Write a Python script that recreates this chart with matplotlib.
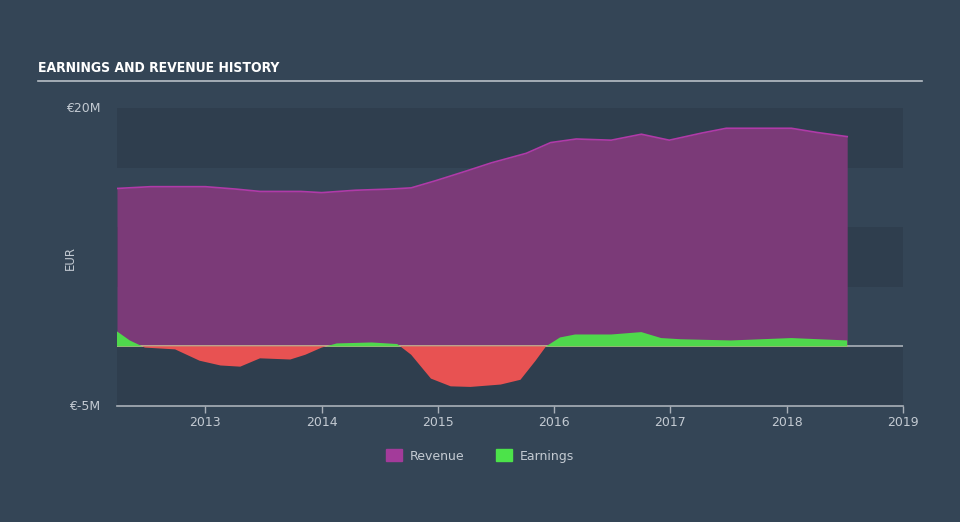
import matplotlib
matplotlib.use('Agg')
import matplotlib.pyplot as plt
import matplotlib.patches as mpatches
import numpy as np

# revenue history (EUR millions), dates as decimal years
rev_dates = [2012.24, 2012.53, 2013.0, 2013.26, 2013.47, 2013.82, 2014.0, 2014.29,
             2014.59, 2014.77, 2014.98, 2015.24, 2015.46, 2015.76, 2015.97, 2016.19,
             2016.49, 2016.75, 2016.99, 2017.27, 2017.48, 2018.04, 2018.26, 2018.52]
revenue = [13.25, 13.4, 13.4, 13.2, 13.0, 13.0, 12.9, 13.1,
           13.2, 13.3, 13.9, 14.7, 15.4, 16.2, 17.1, 17.4,
           17.3, 17.8, 17.3, 17.9, 18.3, 18.3, 17.95, 17.6]

earn_dates = [2012.24, 2012.35, 2012.48, 2012.74, 2012.95, 2013.13, 2013.30, 2013.47,
              2013.73, 2013.86, 2014.0, 2014.13, 2014.43, 2014.65, 2014.77, 2014.94,
              2015.11, 2015.28, 2015.54, 2015.71, 2015.84, 2015.93, 2016.05, 2016.18,
              2016.49, 2016.75, 2016.92, 2017.09, 2017.52, 2018.04, 2018.52]
earnings = [1.26, 0.5, -0.1, -0.25, -1.2, -1.6, -1.7, -1.0,
            -1.1, -0.7, -0.1, 0.25, 0.33, 0.2, -0.7, -2.7,
            -3.35, -3.4, -3.2, -2.8, -1.2, 0.0, 0.75, 1.0,
            1.0, 1.2, 0.7, 0.6, 0.5, 0.7, 0.5]

years = [2013, 2014, 2015, 2016, 2017, 2018, 2019]
ytick_vals = [-5, 20]
ytick_labels = ['€-5M', '€20M']

BG = '#344556'
BAND = '#2f3e4e'
REV_FILL = '#7b3a78'
REV_LINE = '#b03aa8'
GREEN = '#4fd84c'
RED = '#e85252'
TXT = '#c3cad2'

fig = plt.figure(figsize=(9.6, 5.22), dpi=100, facecolor=BG)
ax = fig.add_axes([117 / 960, 1 - 406 / 522, 786 / 960, 298 / 522])
ax.set_facecolor(BG)
ax.set_xlim(2012.24, 2019.0)
ax.set_ylim(-5, 20)

# alternating background bands
for lo, hi in [(-5, 0), (5, 10), (15, 20)]:
    ax.axhspan(lo, hi, color=BAND, lw=0, zorder=0)

ax.axhline(0, color='#a9b0b8', lw=1.2, zorder=1)

rd = np.array(rev_dates)
rv = np.array(revenue)
ax.fill_between(rd, 0, rv, color=REV_FILL, lw=0, zorder=2)
ax.plot(rd, rv, color=REV_LINE, lw=1.2, zorder=3)
# zero line shows warm through the revenue area
ax.plot([rd[0], rd[-1]], [0, 0], color='#c9b98f', lw=1.2, zorder=3)

ed = np.array(earn_dates)
ev = np.array(earnings)
ax.fill_between(ed, 0, ev, where=ev >= 0, interpolate=True, color=GREEN, lw=0, zorder=4)
ax.fill_between(ed, 0, ev, where=ev <= 0, interpolate=True, color=RED, lw=0, zorder=4)

ax.set_xticks(years)
ax.set_xticklabels([str(y) for y in years])
ax.set_yticks(ytick_vals)
ax.set_yticklabels(ytick_labels)
ax.tick_params(axis='x', colors='#a9b0b8', labelcolor=TXT, labelsize=9, length=5, width=1, pad=2)
ax.tick_params(axis='y', length=0, labelcolor=TXT, labelsize=9, pad=12)
for lab in ax.get_yticklabels():
    lab.set_verticalalignment('center')
for s in ['top', 'right', 'left']:
    ax.spines[s].set_visible(False)
ax.spines['bottom'].set_color('#a9b0b8')
ax.spines['bottom'].set_linewidth(1.2)

fig.text(70 / 960, 1 - 258 / 522, 'EUR', rotation=90, color=TXT, fontsize=8.5,
         ha='center', va='center')

# title and rule
fig.text(38 / 960, 1 - 68 / 522, 'EARNINGS AND REVENUE HISTORY', color='white',
         fontsize=10, fontweight='bold', fontstretch='condensed', family='DejaVu Sans',
         ha='left', va='center')
fig.add_artist(plt.Line2D([38 / 960, 922 / 960], [1 - 81 / 522, 1 - 81 / 522],
                          color='#b8bfc6', lw=1.2))

handles = [mpatches.Patch(color='#a33b9a', label='Revenue'),
           mpatches.Patch(color='#4ce34a', label='Earnings')]
leg = fig.legend(handles=handles, loc='center', bbox_to_anchor=(0.5, 1 - 456 / 522),
                 ncol=2, frameon=False, fontsize=9, handlelength=1.3, handleheight=1.1,
                 columnspacing=2.5, handletextpad=0.6)
for t in leg.get_texts():
    t.set_color(TXT)

fig.savefig('out.png', dpi=100, facecolor=BG)
